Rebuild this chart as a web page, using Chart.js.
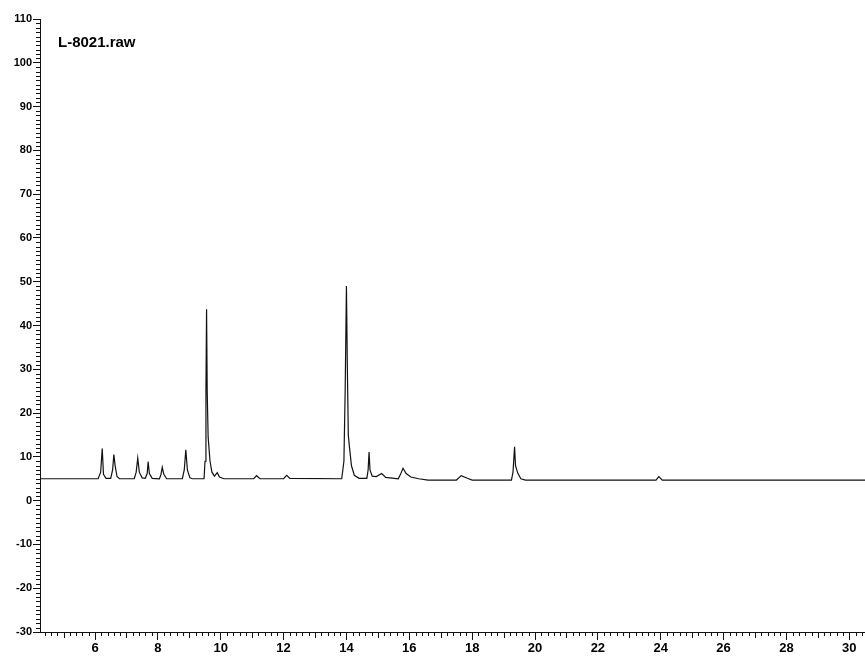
<!DOCTYPE html>
<html>
<head>
<meta charset="utf-8">
<title>L-8021.raw</title>
<script src="https://cdn.jsdelivr.net/npm/chart.js@4/dist/chart.umd.min.js"></script>
<style>
  body { margin: 0; background: #fff; }
  canvas { display: block; }
</style>
</head>
<body>
<canvas id="chromChart" width="865" height="660"></canvas>
<script>
// --- DATI ---
const traceName = 'L-8021.raw';

// tempo di ritenzione (min)
const retentionTimes = [
  4.25, 6.10, 6.18, 6.23, 6.27, 6.35, 6.50, 6.56, 6.60, 6.64, 6.70, 6.78,
  7.25, 7.31, 7.36, 7.41, 7.50, 7.60, 7.66, 7.69, 7.73, 7.82,
  8.05, 8.10, 8.14, 8.19, 8.28, 8.78, 8.84, 8.89, 8.94, 9.02, 9.10,
  9.47, 9.50, 9.53, 9.55, 9.57, 9.60, 9.66, 9.72, 9.80, 9.89, 9.96, 10.10,
  11.05, 11.14, 11.25, 12.00, 12.10, 12.20,
  13.85, 13.92, 13.96, 14.00, 14.03, 14.06, 14.10, 14.16, 14.25, 14.40,
  14.65, 14.69, 14.72, 14.75, 14.82, 14.95, 15.12, 15.25,
  15.65, 15.72, 15.80, 15.90, 16.05, 16.30, 16.60,
  17.50, 17.65, 17.85, 18.00,
  19.25, 19.30, 19.35, 19.38, 19.45, 19.55, 19.70,
  23.85, 23.94, 24.05, 30.50
];

// segnale (%)
const signalValues = [
  5.0, 5.0, 6.5, 11.9, 6.0, 5.1, 5.1, 7.0, 10.5, 8.0, 5.5, 5.0,
  5.0, 6.5, 9.7, 6.5, 5.2, 5.1, 6.2, 8.9, 6.2, 5.1,
  5.0, 6.0, 7.6, 6.0, 5.0, 5.0, 7.0, 11.6, 7.0, 5.2, 5.0,
  5.0, 9.0, 25.0, 43.7, 25.0, 14.5, 9.0, 6.5, 5.6, 6.4, 5.4, 5.0,
  5.0, 5.7, 5.0, 5.0, 5.8, 5.1,
  5.0, 9.0, 25.0, 49.0, 30.0, 15.0, 12.0, 8.0, 5.8, 5.1,
  5.1, 7.0, 11.1, 7.0, 5.6, 5.5, 6.2, 5.3,
  5.0, 6.0, 7.4, 6.2, 5.4, 5.0, 4.7,
  4.7, 5.7, 5.1, 4.7,
  4.7, 6.5, 12.3, 8.0, 6.3, 5.0, 4.7,
  4.7, 5.5, 4.7, 4.7
];

const xTickValues = [6, 8, 10, 12, 14, 16, 18, 20, 22, 24, 26, 28, 30];
const yTickValues = [-30, -20, -10, 0, 10, 20, 30, 40, 50, 60, 70, 80, 90, 100, 110];

const inkColor = '#111';

// --- TACCHE MINORI E TITOLO ---
const minorTicksPlugin = {
  id: 'minorTicks',
  afterDraw(chart) {
    const ctx = chart.ctx;
    const xs = chart.scales.x;
    const ys = chart.scales.y;
    const area = chart.chartArea;
    ctx.save();
    ctx.strokeStyle = inkColor;
    ctx.lineWidth = 1;
    ctx.beginPath();
    // asse y: ogni unita'
    for (let v = -30; v <= 110; v++) {
      if (v % 10 === 0) continue;
      const py = Math.round(ys.getPixelForValue(v)) + 0.5;
      ctx.moveTo(area.left - 4, py);
      ctx.lineTo(area.left, py);
    }
    // asse x: ogni 0.2 min
    for (let k = 22; k <= 152; k++) {
      const v = k / 5;
      if (k % 10 === 0) continue;
      const len = (k % 5 === 0) ? 6 : 4;
      const px = Math.round(xs.getPixelForValue(v)) + 0.5;
      ctx.moveTo(px, area.bottom);
      ctx.lineTo(px, area.bottom + len);
    }
    ctx.stroke();

    ctx.fillStyle = '#000';
    ctx.font = 'bold 15px "Liberation Sans", Arial, sans-serif';
    ctx.textBaseline = 'middle';
    ctx.fillText(traceName, 58, 43);
    ctx.restore();
  }
};

// --- GRAFICO ---
const points = retentionTimes.map((t, i) => ({ x: t, y: signalValues[i] }));

new Chart(document.getElementById('chromChart').getContext('2d'), {
  type: 'line',
  data: {
    datasets: [{
      label: traceName,
      data: points,
      borderColor: inkColor,
      borderWidth: 1.2,
      pointRadius: 0,
      tension: 0,
      fill: false
    }]
  },
  options: {
    responsive: false,
    animation: false,
    layout: { padding: { top: 19, right: 0, left: 0, bottom: 0 } },
    plugins: {
      legend: { display: false },
      tooltip: { enabled: false }
    },
    scales: {
      x: {
        type: 'linear',
        min: 4.25,
        max: 30.5,
        afterBuildTicks: (axis) => { axis.ticks = xTickValues.map(v => ({ value: v })); },
        afterFit: (axis) => { axis.height = 28; },
        grid: { drawOnChartArea: false, tickLength: 8, tickColor: inkColor },
        border: { color: inkColor, width: 1 },
        ticks: {
          autoSkip: false,
          maxRotation: 0,
          padding: 1,
          color: '#000',
          font: { family: '"Liberation Sans", Arial, sans-serif', size: 13, weight: 'bold' }
        }
      },
      y: {
        min: -30,
        max: 110,
        afterBuildTicks: (axis) => { axis.ticks = yTickValues.map(v => ({ value: v })); },
        afterFit: (axis) => { axis.width = 40; },
        grid: { drawOnChartArea: false, tickLength: 7, tickColor: inkColor },
        border: { color: inkColor, width: 1 },
        ticks: {
          autoSkip: false,
          padding: 1,
          color: '#000',
          font: { family: '"Liberation Sans", Arial, sans-serif', size: 11, weight: 'bold' }
        }
      }
    }
  },
  plugins: [minorTicksPlugin]
});
</script>
</body>
</html>
